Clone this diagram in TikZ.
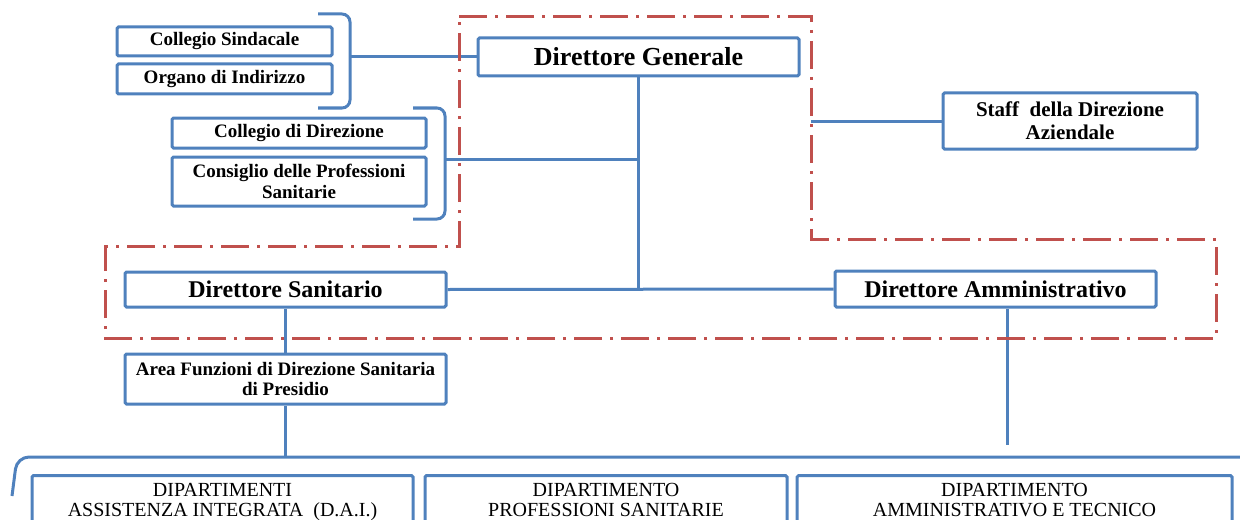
\documentclass[tikz,border=0pt]{standalone}
\usepackage{fontspec}
\setmainfont{Liberation Serif}
\usetikzlibrary{positioning}
\definecolor{orgblue}{HTML}{4F81BD}
\definecolor{orgred}{HTML}{C0504D}
\begin{document}
\begin{tikzpicture}[x=0.5pt,y=-0.5pt,line width=1.5pt]
\tikzstyle{office}=[draw=orgblue,line width=1.5pt,fill=white,inner sep=0pt,align=center,rounded corners=0.8pt,font=\fontsize{9.5}{10.5}\selectfont\bfseries]
\tikzstyle{chief}=[office,minimum width=160.5pt,font=\fontsize{12}{14}\selectfont\bfseries]
\tikzstyle{dept}=[office,anchor=north,inner ysep=4pt,font=\fontsize{10}{10}\selectfont]
\tikzstyle{link}=[draw=orgblue,line width=1.5pt]
\tikzstyle{area}=[draw=orgred,line width=1.5pt,dash pattern=on 14pt off 4pt on 1.5pt off 4pt]
\useasboundingbox (0,0) rectangle (1240,519);
\clip (0,0) rectangle (1240,519);
\node[chief,minimum height=19pt,font=\fontsize{13}{15}\selectfont\bfseries] (DG) at (638.5,57) {Direttore Generale};
\node[office,minimum width=107.5pt,minimum height=14.5pt] (CS) at (224.5,41.5) {Collegio Sindacale};
\node[office,minimum width=107.5pt,minimum height=15pt,below=2.5pt of CS] (OI) {Organo di Indirizzo};
\node[office,minimum width=127pt,minimum height=15pt] (CD) at (299,133) {Collegio di Direzione};
\node[office,minimum width=127pt,minimum height=24.5pt,below=3pt of CD] (CPS) {Consiglio delle Professioni\\Sanitarie};
\node[office,minimum width=127pt,minimum height=28pt,font=\fontsize{10.5}{11.5}\selectfont\bfseries] (SDA) at (1070,121) {Staff\ \ della Direzione\\Aziendale};
\node[chief,minimum height=17.5pt] (DS) at (285.5,289.5) {Direttore Sanitario};
\node[chief,minimum height=18pt] (DA) at (995.5,289) {Direttore Amministrativo};
\node[office,minimum width=160.5pt,minimum height=25pt,font=\fontsize{9.5}{10}\selectfont\bfseries,below=22pt of DS] (AF) {Area Funzioni di Direzione Sanitaria\\di Presidio};
\node[dept,minimum width=190.5pt] (DAI) at (222.5,474) {DIPARTIMENTI\\ASSISTENZA INTEGRATA\ \ (D.A.I.)};
\node[dept,minimum width=181pt] (DPS) at (606,474) {DIPARTIMENTO\\PROFESSIONI SANITARIE};
\node[dept,minimum width=217.5pt] (DAT) at (1014.5,474) {DIPARTIMENTO\\AMMINISTRATIVO E TECNICO};
\coordinate (b1) at (350,57);
\coordinate (b2) at (445,159);
\coordinate (sr) at (811,121);
\coordinate (daend) at (1007,445);
\coordinate (barl) at (12,496);
\coordinate (barr) at (1250,457);
\draw[link,rounded corners=4pt] (318,14) -- (350,14) -- (350,108) -- (318,108);
\draw[link,rounded corners=4pt] (413,108) -- (445,108) -- (445,219) -- (413,219);
\draw[link] (b1) -- (DG.west);
\draw[link] (DG.south) -- (DG.south |- DS.east);
\draw[link] (b2) -- (b2 -| DG.south);
\draw[link] (DS.east) -- (DA.west);
\draw[link] (sr) -- (SDA.west);
\draw[link] (DS.south) -- (AF.north);
\draw[link] (AF.south) -- (AF.south |- barr);
\draw[link] (daend |- DA.south) -- (daend);
\draw[link,rounded corners=6pt] (barl) -- (17,457) -- (barr);
\draw[area] (459,17) -- (811,17) -- (811,239) -- (1216,239) -- (1216,338) -- (105,338) -- (105,246) -- (459,246) -- cycle;
\end{tikzpicture}
\end{document}
